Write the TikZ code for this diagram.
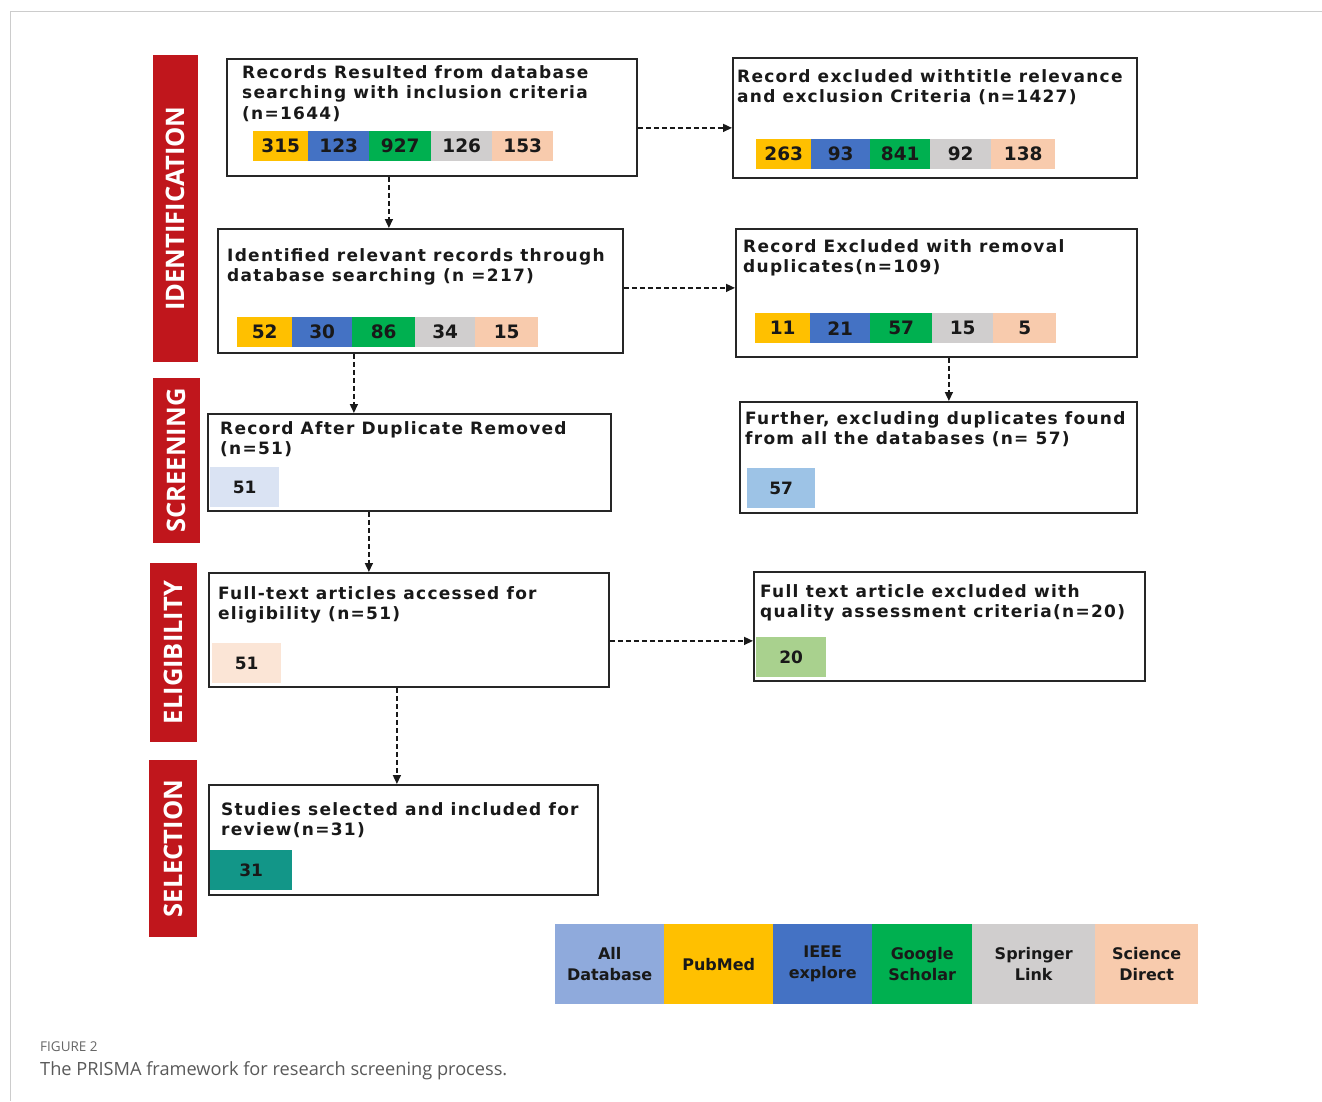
\documentclass[tikz,border=0pt]{standalone}
\usepackage{fontspec}
\setmainfont{DejaVu Sans}
\newfontfamily\boxfont{DejaVu Sans}[LetterSpace=7.5]
\newfontfamily\labfont{Open Sans}
\usetikzlibrary{arrows.meta,calc}
\definecolor{cyel}{HTML}{FFC000}
\definecolor{cblu}{HTML}{4472C4}
\definecolor{cgrn}{HTML}{00B050}
\definecolor{cgry}{HTML}{D0CECE}
\definecolor{cpch}{HTML}{F8CBAD}
\definecolor{call}{HTML}{8FAADC}
\definecolor{cred}{RGB}{192,22,28}
\definecolor{clav}{HTML}{DAE3F3}
\definecolor{clblu}{HTML}{9DC3E6}
\definecolor{clpch}{HTML}{FBE5D6}
\definecolor{clgrn}{HTML}{A9D18E}
\definecolor{cteal}{RGB}{18,150,136}
\definecolor{cframe}{HTML}{CCCCCC}
\begin{document}
\begin{tikzpicture}[x=1pt,y=-1pt,
  box/.style={draw=black!85, line width=1.8pt, anchor=north west, inner sep=0pt, fill=white},
  btext/.style={anchor=north west, inner sep=0pt, align=left, text=black!90,
    font=\boxfont\bfseries\fontsize{17}{20.5}\selectfont},
  seg/.style={anchor=north west, inner sep=0pt, minimum height=30pt, text=black!90,
    font=\bfseries\fontsize{18.5}{20}\selectfont},
  nbox/.style={anchor=north west, inner sep=0pt, minimum height=40pt, text=black!90,
    font=\bfseries\fontsize{17}{20}\selectfont},
  side/.style={fill=cred, text=white, inner sep=0pt, rotate=90,
    font=\labfont\bfseries\fontsize{25.5}{26}\selectfont},
  leg/.style={anchor=north west, inner sep=0pt, minimum height=80pt, align=center, text=black!90,
    font=\bfseries\fontsize{16}{21}\selectfont},
  arr/.style={dash pattern=on 5pt off 3pt, line width=1.5pt, black!90,
    -{Triangle[length=9pt,width=8pt]}}
]
\useasboundingbox (0,0) rectangle (1322,1101);
% frame
\draw[cframe, line width=1pt] (1322,11) -- (10,11) -- (10,1101);

% side labels
\node[side, minimum width=307pt, minimum height=45pt] (sid) at (175.5,208.5) {IDENTIFICATION};
\node[side, minimum width=165pt, minimum height=47pt] (sscr) at (176.5,460.5) {SCREENING};
\node[side, minimum width=179pt, minimum height=47pt] (selg) at (173.5,652.5) {ELIGIBILITY};
\node[side, minimum width=177pt, minimum height=48pt] (ssel) at (173,848.5) {SELECTION};

% boxes
\node[box, minimum width=410pt, minimum height=117pt] (b1) at (226,58) {};
\node[box, minimum width=404pt, minimum height=120pt] (b1r) at (732,57) {};
\node[box, minimum width=405pt, minimum height=124pt] (b2) at (217,228) {};
\node[box, minimum width=401pt, minimum height=128pt] (b2r) at (735,228) {};
\node[box, minimum width=403pt, minimum height=97pt] (b3) at (207,413) {};
\node[box, minimum width=397pt, minimum height=111pt] (b3r) at (739,401) {};
\node[box, minimum width=400pt, minimum height=114pt] (b4) at (208,572) {};
\node[box, minimum width=391pt, minimum height=109pt] (b4r) at (753,571) {};
\node[box, minimum width=389pt, minimum height=110pt] (b5) at (208,784) {};

% texts
\node[btext] (t1) at (242,65) {Records Resulted from database\\searching with inclusion criteria\\(n=1644)};
\node[btext] (t1r) at (737,69) {Record excluded withtitle relevance\\and exclusion Criteria (n=1427)};
\node[btext] (t2) at (227,248) {Identified relevant records through\\database searching (n =217)};
\node[btext] (t2r) at (743,239) {Record Excluded with removal\\duplicates(n=109)};
\node[btext] (t3) at (220,421) {Record After Duplicate Removed\\(n=51)};
\node[btext] (t3r) at (745,411) {Further, excluding duplicates found\\from all the databases (n= 57)};
\node[btext] (t4) at (218,586) {Full-text articles accessed for\\eligibility (n=51)};
\node[btext] (t4r) at (760,584) {Full text article excluded with\\quality assessment criteria(n=20)};
\node[btext] (t5) at (221,802) {Studies selected and included for\\review(n=31)};

% bars row 1 left
\node[seg, fill=cyel, minimum width=55pt] (r1a) at (253,131) {315};
\node[seg, fill=cblu, minimum width=61pt] (r1b) at (308,131) {123};
\node[seg, fill=cgrn, minimum width=62pt] (r1c) at (369,131) {927};
\node[seg, fill=cgry, minimum width=61pt] (r1d) at (431,131) {126};
\node[seg, fill=cpch, minimum width=61pt] (r1e) at (492,131) {153};
% bars row 1 right
\node[seg, fill=cyel, minimum width=55pt] (s1a) at (756,139) {263};
\node[seg, fill=cblu, minimum width=59pt] (s1b) at (811,139) {93};
\node[seg, fill=cgrn, minimum width=60pt] (s1c) at (870,139) {841};
\node[seg, fill=cgry, minimum width=61pt] (s1d) at (930,139) {92};
\node[seg, fill=cpch, minimum width=64pt] (s1e) at (991,139) {138};
% bars row 2 left
\node[seg, fill=cyel, minimum width=55pt] (r2a) at (237,317) {52};
\node[seg, fill=cblu, minimum width=60pt] (r2b) at (292,317) {30};
\node[seg, fill=cgrn, minimum width=63pt] (r2c) at (352,317) {86};
\node[seg, fill=cgry, minimum width=60pt] (r2d) at (415,317) {34};
\node[seg, fill=cpch, minimum width=63pt] (r2e) at (475,317) {15};
% bars row 2 right
\node[seg, fill=cyel, minimum width=55pt] (s2a) at (755,313) {11};
\node[seg, fill=cblu, minimum width=60pt] (s2b) at (810,313) {21};
\node[seg, fill=cgrn, minimum width=62pt] (s2c) at (870,313) {57};
\node[seg, fill=cgry, minimum width=61pt] (s2d) at (932,313) {15};
\node[seg, fill=cpch, minimum width=63pt] (s2e) at (993,313) {5};

% single count boxes
\node[nbox, fill=clav, minimum width=69pt] (n3) at (210,467) {51};
\node[nbox, fill=clblu, minimum width=68pt] (n3r) at (747,468) {57};
\node[nbox, fill=clpch, minimum width=69pt] (n4) at (212,643) {51};
\node[nbox, fill=clgrn, minimum width=70pt] (n4r) at (756,637) {20};
\node[nbox, fill=cteal, minimum width=82pt] (n5) at (210,850) {31};

% connectors
\draw[arr] ([xshift=-43pt]b1.south) -- ([xshift=-43pt]b1.south |- b2.north);
\draw[arr] ([yshift=-10.5pt]b1.east) -- ([yshift=-10.5pt]b1.east -| b1r.west);
\draw[arr] ([yshift=3pt]b2.east) -- ([yshift=3pt]b2.east -| b2r.west);
\draw[arr] ([xshift=-66.5pt]b2.south) -- ([xshift=-66.5pt]b2.south |- b3.north);
\draw[arr] ([xshift=12.5pt]b2r.south) -- ([xshift=12.5pt]b2r.south |- b3r.north);
\draw[arr] ([xshift=-40.5pt]b3.south) -- ([xshift=-40.5pt]b3.south |- b4.north);
\draw[arr] ([yshift=-11pt]b4.east) -- ([yshift=-11pt]b4.east -| b4r.west);
\draw[arr] ([xshift=-12pt]b4.south) -- ([xshift=-12pt]b4.south |- b5.north);

% legend
\node[leg, fill=call, minimum width=109pt] (l1) at (555,924) {All\\Database};
\node[leg, fill=cyel, minimum width=109pt] (l2) at (664,924) {PubMed};
\node[leg, fill=cblu, minimum width=99pt] (l3) at (773,924) {IEEE\\explore};
\node[leg, fill=cgrn, minimum width=100pt] (l4) at (872,924) {Google\\Scholar};
\node[leg, fill=cgry, minimum width=123pt] (l5) at (972,924) {Springer\\Link};
\node[leg, fill=cpch, minimum width=103pt] (l6) at (1095,924) {Science\\Direct};

% caption
\node[anchor=base west, inner sep=0pt, text=black!60, font=\labfont\fontsize{13.5}{16}\selectfont] (cap1) at (40,1051) {FIGURE 2};
\node[anchor=base west, inner sep=0pt, text=black!65, font=\labfont\fontsize{18.2}{20}\selectfont] (cap2) at (40,1075) {The PRISMA framework for research screening process.};
\end{tikzpicture}
\end{document}
